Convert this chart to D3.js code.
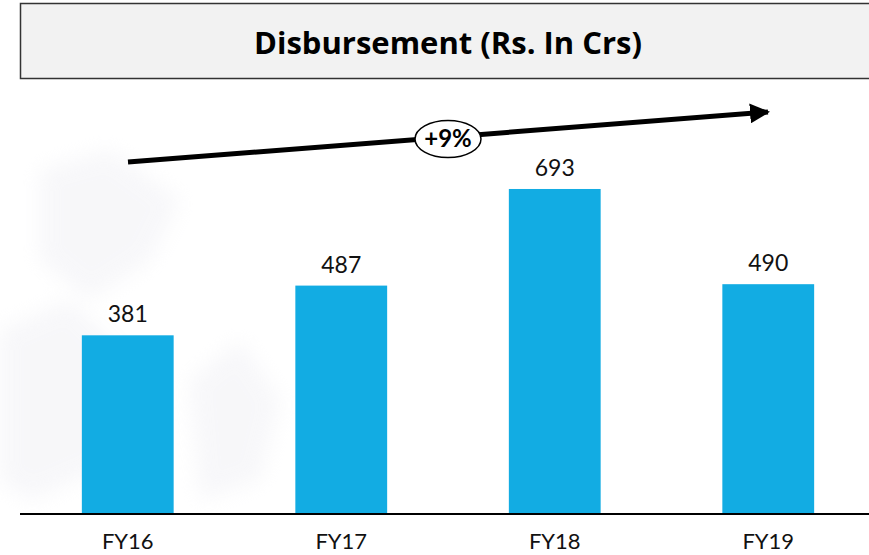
<!DOCTYPE html>
<html lang="en">
<head>
<meta charset="utf-8">
<title>Disbursement</title>
<script src="https://cdn.jsdelivr.net/npm/d3@7"></script>
<style>
  body { margin: 0; background: #fff; }
  svg { display: block; font-family: Lato, "Open Sans", sans-serif; }
</style>
</head>
<body>
<div id="chart"></div>
<script>
// data
var years = ["FY16", "FY17", "FY18", "FY19"];
var disbursed = [381, 487, 693, 490];
var growthLabel = "+9%";
var titleText = "Disbursement (Rs. In Crs)";

var w = 869, h = 555;
var baseY = 514;

var svg = d3.select("#chart").append("svg")
  .attr("width", w)
  .attr("height", h);

var defs = svg.append("defs");
defs.append("filter").attr("id", "soft")
  .append("feGaussianBlur").attr("stdDeviation", 10);

// very faint watermark behind the left bars
var wm = svg.append("g").attr("fill", "#ececf2").attr("opacity", 0.4).attr("filter", "url(#soft)");
wm.append("path").attr("d", "M40,170 L110,150 L180,200 L150,260 L90,300 L40,260 Z");
wm.append("path").attr("d", "M0,330 L70,300 L130,360 L100,470 L30,500 L0,480 Z");
wm.append("path").attr("d", "M190,380 L240,340 L280,400 L260,480 L200,500 Z");

// title box (runs off the right edge)
svg.append("rect")
  .attr("x", 20.5).attr("y", 3.5)
  .attr("width", 860).attr("height", 75)
  .attr("fill", "#f2f2f2")
  .attr("stroke", "#333")
  .attr("stroke-width", 1.5);

svg.append("text")
  .attr("x", 448).attr("y", 54)
  .attr("text-anchor", "middle")
  .style("font-family", "'Open Sans', sans-serif")
  .style("font-size", "31px")
  .style("font-weight", "bold")
  .text(titleText);

var xScale = d3.scaleBand()
  .domain(years)
  .range([21, 875])
  .paddingInner(0.57)
  .paddingOuter(0.285);

var yScale = d3.scaleLinear()
  .domain([0, 700])
  .range([baseY, baseY - 328.3]);

svg.selectAll("rect.bar")
  .data(disbursed)
  .enter()
  .append("rect")
  .attr("class", "bar")
  .attr("x", function(d, i) { return xScale(years[i]); })
  .attr("y", function(d) { return yScale(d); })
  .attr("width", xScale.bandwidth())
  .attr("height", function(d) { return baseY - yScale(d); })
  .attr("fill", "#12ace3");

svg.selectAll("text.val")
  .data(disbursed)
  .enter()
  .append("text")
  .attr("class", "val")
  .attr("x", function(d, i) { return xScale(years[i]) + xScale.bandwidth() / 2; })
  .attr("y", function(d) { return yScale(d) - 13; })
  .attr("text-anchor", "middle")
  .style("font-size", "23px")
  .attr("fill", "#111")
  .text(function(d) { return d; });

// baseline + category labels
svg.append("line")
  .attr("x1", 20).attr("x2", w)
  .attr("y1", baseY).attr("y2", baseY)
  .attr("stroke", "#000")
  .attr("stroke-width", 2);

svg.selectAll("text.cat")
  .data(years)
  .enter()
  .append("text")
  .attr("class", "cat")
  .attr("x", function(d) { return xScale(d) + xScale.bandwidth() / 2; })
  .attr("y", 549)
  .attr("text-anchor", "middle")
  .style("font-size", "22px")
  .attr("fill", "#111")
  .text(function(d) { return d; });

// growth arrow
defs.append("marker")
  .attr("id", "head")
  .attr("viewBox", "0 0 10 10")
  .attr("refX", 9).attr("refY", 5)
  .attr("markerWidth", 4).attr("markerHeight", 4)
  .attr("markerUnits", "strokeWidth")
  .attr("orient", "auto")
  .append("path")
  .attr("d", "M0,0 L10,5 L0,10 Z")
  .attr("fill", "#000");

svg.append("line")
  .attr("x1", 128).attr("y1", 162)
  .attr("x2", 768).attr("y2", 112)
  .attr("stroke", "#000")
  .attr("stroke-width", 5)
  .attr("marker-end", "url(#head)");

svg.append("ellipse")
  .attr("cx", 448).attr("cy", 139)
  .attr("rx", 33).attr("ry", 18.5)
  .attr("fill", "#fff")
  .attr("stroke", "#000")
  .attr("stroke-width", 1.5);

svg.append("text")
  .attr("x", 448).attr("y", 147)
  .attr("text-anchor", "middle")
  .style("font-size", "24px")
  .style("font-weight", "bold")
  .text(growthLabel);
</script>
</body>
</html>
